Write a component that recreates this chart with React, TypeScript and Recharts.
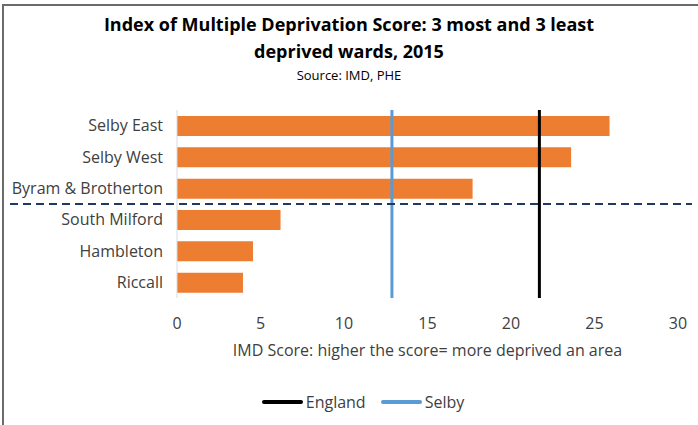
import {
  BarChart,
  Bar,
  XAxis,
  YAxis,
  ReferenceLine,
} from 'recharts';

const wards = ['Selby East', 'Selby West', 'Byram & Brotherton', 'South Milford', 'Hambleton', 'Riccall'];
const scores = [25.9, 23.6, 17.7, 6.2, 4.55, 3.95];
const xTicks = [0, 5, 10, 15, 20, 25, 30];

const englandScore = 21.7;
const selbyScore = 12.87;
// dashed divider sits above this ward (3 most / 3 least deprived)
const dividerWard = 'South Milford';

const legendNames = ['England', 'Selby'];

const ORANGE = '#ED7D31';
const BLUE = '#5B9BD5';
const NAVY = '#1F3864';
const TEXT = '#404040';
const FONT = '"Open Sans", Lato, sans-serif';

const data = wards.map((ward, i) => ({ ward, score: scores[i] }));

const legendColors = ['#000000', BLUE];

const DividerLine = (props: any) => {
  const { y1 } = props;
  return (
    <line x1={10} x2={692} y1={y1} y2={y1} stroke={NAVY} strokeWidth={2} strokeDasharray="8 5" />
  );
};

export default function App() {
  return (
    <div
      style={{
        position: 'absolute',
        left: 0,
        top: 0,
        width: 698,
        height: 425,
        background: '#fff',
        fontFamily: FONT,
        overflow: 'hidden',
      }}
    >
      <div
        style={{
          position: 'absolute',
          left: 2,
          top: 4,
          width: 696,
          height: 421,
          borderTop: '2px solid #6b6b6b',
          borderLeft: '2px solid #6b6b6b',
          boxSizing: 'border-box',
        }}
      />
      <div
        style={{
          position: 'absolute',
          top: 11,
          left: 0,
          width: 698,
          textAlign: 'center',
          fontWeight: 700,
          fontSize: 18,
          lineHeight: '27px',
          color: '#000',
        }}
      >
        Index of Multiple Deprivation Score: 3 most and 3 least
        <br />
        deprived wards, 2015
      </div>
      <div
        style={{
          position: 'absolute',
          top: 66,
          left: 0,
          width: 698,
          textAlign: 'center',
          fontSize: 13,
          color: '#000',
        }}
      >
        Source: IMD, PHE
      </div>
      <div style={{ position: 'absolute', left: 0, top: 0 }}>
        <BarChart
          width={698}
          height={425}
          data={data}
          layout="vertical"
          margin={{ top: 110, right: 20, bottom: 67, left: 7 }}
          barSize={20}
        >
          <XAxis
            type="number"
            domain={[0, 30]}
            ticks={xTicks}
            axisLine={false}
            tickLine={false}
            tick={{ fontSize: 16, fill: TEXT, fontFamily: FONT }}
            tickMargin={14}
            height={60}
            interval={0}
            label={{
              value: 'IMD Score: higher the score= more deprived an area',
              position: 'insideBottom',
              offset: 2,
              style: { fontSize: 16, fill: TEXT, fontFamily: FONT },
            }}
          />
          <YAxis
            type="category"
            dataKey="ward"
            width={170}
            axisLine={{ stroke: '#d9d9d9' }}
            tickLine={false}
            tick={{ fontSize: 16, fill: TEXT, fontFamily: FONT }}
            tickMargin={8}
            interval={0}
          />
          <Bar dataKey="score" fill={ORANGE} isAnimationActive={false} />
          <ReferenceLine x={selbyScore} stroke={BLUE} strokeWidth={3} />
          <ReferenceLine x={englandScore} stroke="#000" strokeWidth={3} />
          <ReferenceLine y={dividerWard} position="start" shape={DividerLine} ifOverflow="visible" />
        </BarChart>
      </div>
      <div
        style={{
          position: 'absolute',
          top: 391,
          left: 14,
          width: 698,
          display: 'flex',
          justifyContent: 'center',
          gap: 15,
          fontSize: 16,
          color: TEXT,
        }}
      >
        {legendNames.map((name, i) => (
          <div key={name} style={{ display: 'flex', alignItems: 'center' }}>
            <span
              style={{
                display: 'inline-block',
                width: 41,
                height: 4,
                borderRadius: 2,
                background: legendColors[i],
                marginRight: 3,
              }}
            />
            <span>{name}</span>
          </div>
        ))}
      </div>
    </div>
  );
}
